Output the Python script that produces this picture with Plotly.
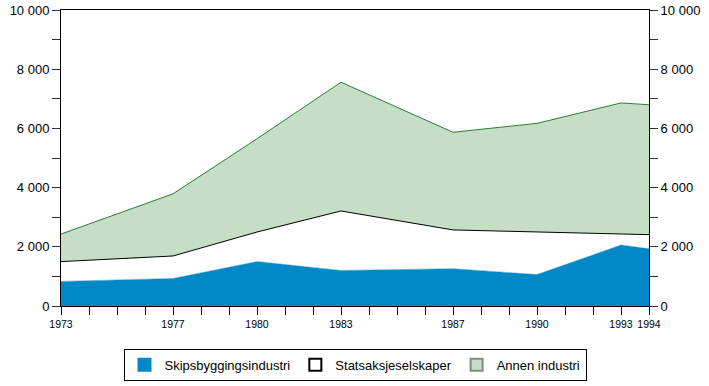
import plotly.graph_objects as go

years = [1973, 1977, 1980, 1983, 1987, 1990, 1993, 1994]
skips = [830, 930, 1500, 1200, 1260, 1060, 2060, 1930]
stats = [670, 760, 1000, 2010, 1310, 1450, 370, 480]
annen = [930, 2100, 3150, 4350, 3300, 3660, 4430, 4390]

names = ["Skipsbyggingsindustri", "Statsaksjeselskaper", "Annen industri"]
fills = ["#0089C6", "#FFFFFF", "#C5DEC5"]
edges = ["#0089C6", "#000000", "#2E7D32"]
legend_edges = ["#0089C6", "#000000", "#888888"]
x_label_years = [1973, 1977, 1980, 1983, 1987, 1990, 1993, 1994]
y_vals = list(range(0, 10001, 1000))
y_text = [("{:,}".format(v).replace(",", " ") if v % 2000 == 0 else "") for v in y_vals]

fig = go.Figure()
for vals, name, fc, ec in zip([skips, stats, annen], names, fills, edges):
    fig.add_trace(go.Scatter(x=years, y=vals, name=name, stackgroup="one",
                             mode="lines", line=dict(color=ec, width=0.5 if name == names[0] else 1),
                             fillcolor=fc, showlegend=False))
# legend proxies
for name, fc, ec in zip(names, fills, legend_edges):
    fig.add_trace(go.Scatter(x=[None], y=[None], name=name, mode="markers",
                             marker=dict(symbol="square", size=15, color=fc,
                                         line=dict(color=ec, width=1)),
                             showlegend=True))
# invisible trace to activate right axis
fig.add_trace(go.Scatter(x=[years[0]], y=[0], yaxis="y2", mode="markers",
                         marker=dict(opacity=0), showlegend=False, hoverinfo="skip"))

all_years = list(range(1973, 1995))
fig.update_layout(
    width=709, height=386,
    margin=dict(l=61, r=60, t=10, b=80, autoexpand=False),
    paper_bgcolor="white", plot_bgcolor="white",
    font=dict(family="Liberation Sans, Arial, sans-serif", size=11, color="black"),
    xaxis=dict(range=[1973, 1994], tickvals=all_years,
               ticktext=[str(y) if y in x_label_years else "" for y in all_years],
               ticks="outside", ticklen=8, tickcolor="black", showgrid=False,
               showline=True, linecolor="black", linewidth=1, mirror=True,
               zeroline=False, tickfont=dict(size=10.5), automargin=False),
    yaxis=dict(range=[0, 10000], tickvals=y_vals, ticktext=y_text,
               ticks="outside", ticklen=8, tickcolor="#333", showgrid=False,
               showline=True, linecolor="black", linewidth=1, zeroline=False,
               tickfont=dict(size=13), automargin=False),
    yaxis2=dict(range=[0, 10000], tickvals=y_vals, ticktext=y_text, overlaying="y",
                side="right", ticks="outside", ticklen=8, tickcolor="#333",
                showgrid=False, showline=True, linecolor="black", linewidth=1,
                zeroline=False, tickfont=dict(size=13), automargin=False),
    legend=dict(orientation="h", x=0.5, xanchor="center", y=-0.145, yanchor="top",
                bordercolor="black", borderwidth=1, font=dict(size=13),
                traceorder="normal", itemsizing="constant", tracegroupgap=0),
    showlegend=True,
)

fig.write_html("out.html", config={"displayModeBar": False},
               post_script="document.body.style.margin='0';document.body.style.overflow='hidden';")
